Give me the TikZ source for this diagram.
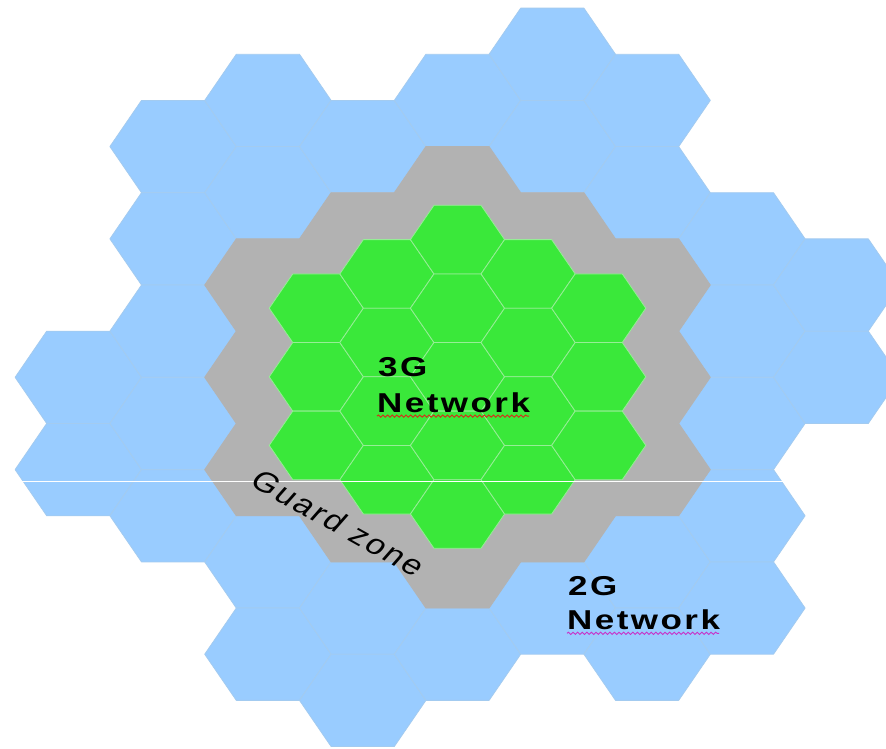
\documentclass[tikz,border=0pt]{standalone}
\usepackage{fontspec}
\usepackage{graphicx}
\usetikzlibrary{decorations.pathmorphing}
\newfontfamily\lblfont[LetterSpace=7]{Liberation Sans}
\definecolor{blueTwoG}{RGB}{153,204,255}
\definecolor{blueEdge}{RGB}{163,203,240}
\definecolor{guardGray}{RGB}{178,178,178}
\definecolor{greenThreeG}{RGB}{58,232,58}
\definecolor{greenEdge}{RGB}{150,238,150}
\definecolor{squigRed}{RGB}{215,45,25}
\definecolor{squigMag}{RGB}{200,50,200}
% #1 style, #2 cx, #3 cy, #4 half width a, #5 half height h
\newcommand\hexcell[5]{%
  \filldraw[#1] (#2-#4,#3) -- ++(#4/2,-#5) -- ++(#4,0) -- ++(#4/2,#5)
    -- ++(-#4/2,#5) -- ++(-#4,0) -- cycle;}
\begin{document}
\begin{tikzpicture}[x=1pt,y=-1pt,
  cellblue/.style={fill=blueTwoG, draw=blueEdge, line width=0.8pt, line join=round},
  cellgray/.style={fill=guardGray, draw=guardGray, line width=0.8pt, line join=round},
  cellgreen/.style={fill=greenThreeG, draw=greenEdge, line width=0.8pt, line join=round},
  lbl/.style={font=\lblfont\fontsize{35}{35}\selectfont\bfseries, inner sep=0pt, anchor=base west, text=black},
  gtext/.style={font=\lblfont\fontsize{35}{35}\selectfont, inner sep=0pt, text=black},
  squig/.style={line width=0.9pt, decorate, decoration={snake, segment length=4.6pt, amplitude=1.1pt}}]
\useasboundingbox (0,0) rectangle (886,748);
\clip (0,0) rectangle (886,748);
\fill[white] (0,0) rectangle (886,748);
% 2G network cells (blue)
\foreach \c/\rows in {-4/{0,1}, -3/{-2.5,-1.5,-0.5,0.5,1.5}, -2/{-3,-2,2,3},
    -1/{-2.5,2.5,3.5}, 0/{-3,3}, 1/{-3.5,-2.5,2.5}, 2/{-3,-2,2,3},
    3/{-1.5,-0.5,0.5,1.5,2.5}, 4/{-1,0}}{
  \foreach \r in \rows {
    \pgfmathsetmacro\cx{457.5+94.8*\c}
    \pgfmathsetmacro\cy{377.3+92.3*\r}
    \hexcell{cellblue}{\cx}{\cy}{63.2}{46.15}
  }
}
% guard zone cells (gray)
\foreach \c/\rows in {-2/{-1,0,1}, -1/{-1.5,-0.5,0.5,1.5}, 0/{-2,-1,0,1,2},
    1/{-1.5,-0.5,0.5,1.5}, 2/{-1,0,1}}{
  \foreach \r in \rows {
    \pgfmathsetmacro\cx{457.5+94.8*\c}
    \pgfmathsetmacro\cy{377.3+92.3*\r}
    \hexcell{cellgray}{\cx}{\cy}{63.2}{46.15}
  }
}
% 3G network cells (green)
\foreach \c/\rows in {-2/{-1,0,1}, -1/{-1.5,-0.5,0.5,1.5}, 0/{-2,-1,0,1,2},
    1/{-1.5,-0.5,0.5,1.5}, 2/{-1,0,1}}{
  \foreach \r in \rows {
    \pgfmathsetmacro\cx{457.5+70.6*\c}
    \pgfmathsetmacro\cy{376.8+68.6*\r}
    \hexcell{cellgreen}{\cx}{\cy}{47.07}{34.3}
  }
}
% thin white line across the picture
\coordinate (wlL) at (0,481.5);
\coordinate (wlR) at (886,481.5);
\draw[white, line width=0.9pt] (wlL) -- (wlR);
% labels
\node[lbl] (lab3g) at (378,376.7) {\scalebox{1}[0.78]{3G}};
\node[lbl] (net3g) at (377,412.7) {\scalebox{1}[0.78]{Network}};
\node[lbl] (lab2g) at (568,595) {\scalebox{1}[0.78]{2G}};
\node[lbl] (net2g) at (567,629.3) {\scalebox{1}[0.78]{Network}};
\draw[squig, squigRed] ([yshift=-3.4pt]net3g.base west) -- ([yshift=-3.4pt,xshift=-1pt]net3g.base east);
\draw[squig, squigMag] ([yshift=-4pt]net2g.base west) -- ([yshift=-4pt,xshift=-1pt]net2g.base east);
\begin{scope}[shift={(338.7,523)}, yscale=0.8]
  \node[gtext, transform shape, rotate=-35] (guard) at (0,0) {Guard zone};
\end{scope}
\end{tikzpicture}
\end{document}
